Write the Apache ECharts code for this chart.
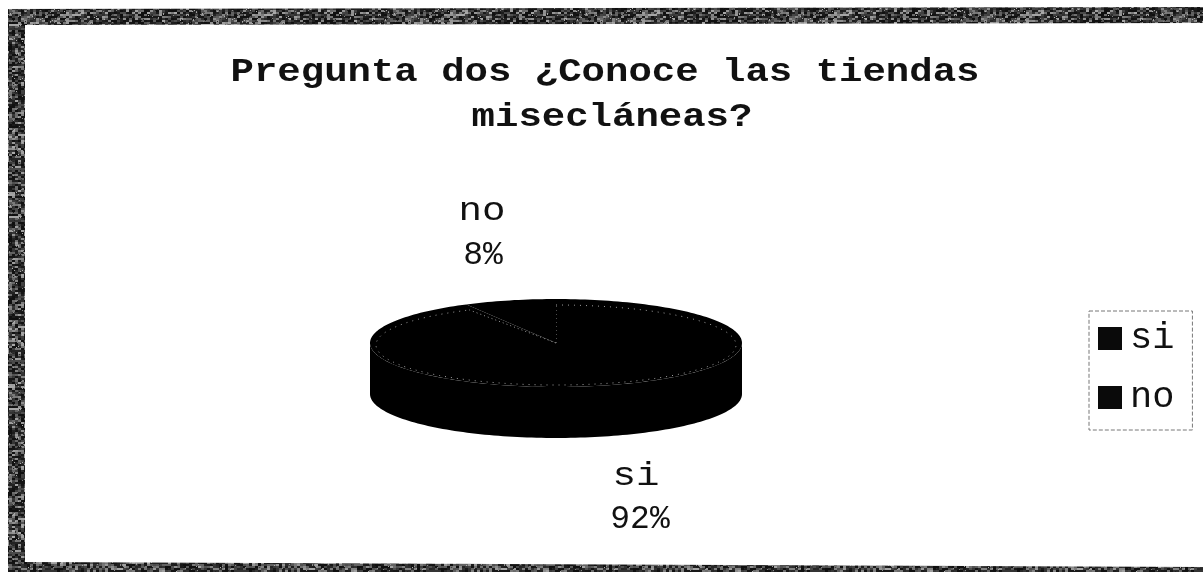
<!DOCTYPE html>
<html><head><meta charset="utf-8">
<style>html,body{margin:0;padding:0;background:#fff}#c{width:1203px;height:572px}</style>
<script src="https://cdn.jsdelivr.net/npm/echarts@6/dist/echarts.min.js"></script>
</head><body><div id="c"></div>
<script>
var titleLines = ['Pregunta dos ¿Conoce las tiendas', 'misecláneas?'];
var categories = ['si', 'no'];
var values = [92, 8];

var FONT = '"Liberation Mono", monospace';
var total = values[0] + values[1];
var CX = 556, CY = 343, RX = 186, RY = 44, DEPTH = 51;
var RIM_RX = 180, RIM_RY = 40, RIM_CY = 345;

function pt(frac, rx, ry, cy) {
  var a = frac * 2 * Math.PI;
  return [CX + rx * Math.sin(a), cy - ry * Math.cos(a)];
}
function arc(f0, f1, rx, ry, cy) {
  var out = [], n = Math.max(8, Math.ceil((f1 - f0) * 240));
  for (var i = 0; i <= n; i++) out.push(pt(f0 + (f1 - f0) * i / n, rx, ry, cy));
  return out;
}
function noisePattern() {
  var s = 192, cv = document.createElement('canvas');
  cv.width = s; cv.height = s;
  var g = cv.getContext('2d'), seed = 12345;
  function next() { seed = (seed * 1103515245 + 12345) & 0x7fffffff; return (seed >> 8) % 256; }
  g.fillStyle = '#444'; g.fillRect(0, 0, s, s);
  for (var y = 0; y < s; y += 2) for (var x = 0; x < s; x += 3) {
    var v = next(), lum = Math.round(15 + v * v / 420);
    g.fillStyle = 'rgb(' + lum + ',' + lum + ',' + lum + ')';
    g.fillRect(x, y, 3 + (next() % 3), 2);
  }
  for (var i = 0; i < 9000; i++) {
    var l = next() % 2 ? 30 : 175;
    g.fillStyle = 'rgba(' + l + ',' + l + ',' + l + ',0.7)';
    g.fillRect(next() % s * 1, next() % s, 1, 1);
  }
  return cv;
}
var pat = { image: noisePattern(), repeat: 'repeat' };
function band(points) {
  return { type: 'polygon', silent: true, z: 0, shape: { points: points }, style: { fill: pat } };
}
function titleText(text, x, y) {
  return { type: 'text', silent: true, z: 5, x: x, y: y, scaleX: 1.2, originX: 0, originY: 0,
    style: { x: 0, y: 0, text: text, font: 'bold 32.5px ' + FONT, fill: '#111', align: 'center', verticalAlign: 'middle' } };
}

var nameCentre = [[636, 476], [482, 211]];
var pctCentre = [[640, 519], [483, 255]];

function sliceSeries(idx) {
  var before = idx === 0 ? 0 : values[0] / total;
  return {
    type: 'custom',
    name: categories[idx],
    coordinateSystem: 'none',
    silent: true,
    itemStyle: { color: '#0a0a0a' },
    data: [values[idx]],
    renderItem: function (params, api) {
      var f0 = before, f1 = before + api.value(0) / total;
      var top = arc(f0, f1, RX, RY, CY);
      var rim = arc(f0, f1, RIM_RX, RIM_RY, RIM_CY);
      var centre = [CX, CY];
      var children = [];
      var s0 = Math.max(f0, 0.25), s1 = Math.min(f1, 0.75);
      if (s1 > s0) children.push({ type: 'polygon',
        shape: { points: arc(s0, s1, RX, RY, CY).concat(arc(s0, s1, RX, RY, CY + DEPTH).reverse()) },
        style: { fill: '#000' } });
      children.push(
        { type: 'polygon', shape: { points: [centre].concat(top) }, style: { fill: '#000' } },
        { type: 'polyline', shape: { points: [centre, rim[0]] },
          style: { stroke: '#9a9a9a', fill: null, lineWidth: 1, lineDash: [1, 3] } },
        { type: 'text', z2: 10, x: nameCentre[idx][0], y: nameCentre[idx][1], scaleX: 1.15,
          style: { x: 0, y: 0, text: categories[idx], font: '34px ' + FONT, fill: '#111', align: 'center', verticalAlign: 'middle' } },
        { type: 'text', z2: 10, x: pctCentre[idx][0], y: pctCentre[idx][1],
          style: { x: 0, y: 0, text: Math.round(api.value(0) / total * 100) + '%', font: '33px ' + FONT, fill: '#111', align: 'center', verticalAlign: 'middle' } }
      );
      if (idx === 0) children.push({ type: 'polyline', shape: { points: rim },
        style: { stroke: '#a0a0a0', fill: null, lineWidth: 1, lineDash: [1, 5] } });
      return { type: 'group', children: children };
    }
  };
}

var chart = echarts.init(document.getElementById('c'), null, { renderer: 'canvas' });
chart.setOption({
  animation: false,
  backgroundColor: '#fff',
  legend: {
    data: categories, orient: 'vertical', left: 1089, top: 311, padding: [9, 18, 14, 9],
    itemWidth: 24, itemHeight: 23, itemGap: 22, selectedMode: false,
    icon: 'rect', borderColor: '#777', borderWidth: 1, borderType: 'dashed',
    itemStyle: { borderWidth: 0 },
    textStyle: { fontFamily: FONT, fontSize: 37, color: '#111', padding: [0, 0, 0, 3] }
  },
  graphic: [
    band([[8, 9], [1203, 7], [1203, 23], [25, 25], [25, 562], [1203, 567], [1203, 572], [8, 572]]),
    titleText(titleLines[0], 605, 73),
    titleText(titleLines[1], 612, 118)
  ],
  series: [sliceSeries(0), sliceSeries(1)]
});
</script></body></html>
